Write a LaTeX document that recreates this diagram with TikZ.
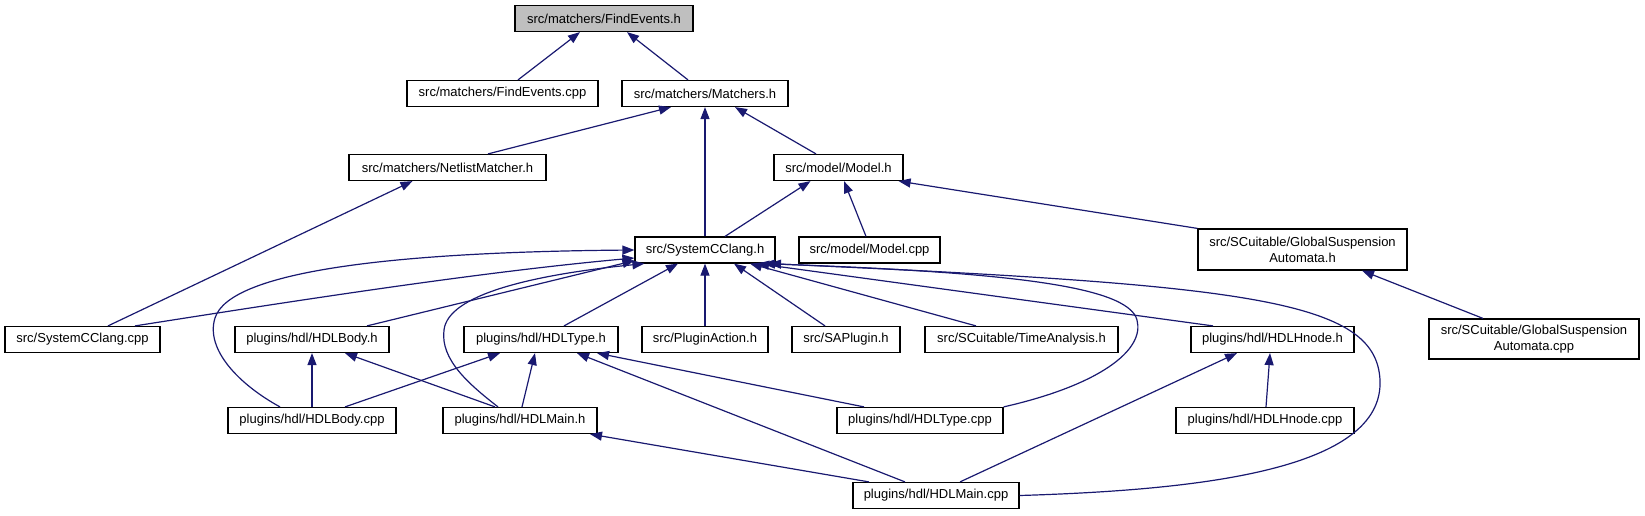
\documentclass[tikz,border=0pt]{standalone}
\usepackage{fontspec}
\setmainfont{Liberation Sans}
\usepackage{tikz}
\usetikzlibrary{positioning, arrows.meta}
\definecolor{midnight}{HTML}{191970}
\definecolor{rootgrey}{HTML}{BFBFBF}

\begin{document}
\begin{tikzpicture}[x=1pt, y=-1pt,
        file/.style={draw=black, line width=1.2pt, fill=white, minimum height=26pt, inner sep=2pt, align=center, font=\fontsize{13}{16}\selectfont},
        edge/.style={draw=midnight, line width=1.2pt, -{Triangle[length=12pt, width=9pt]}}]
        \useasboundingbox (0,0) rectangle (1645,515);
        \node[file, fill=rootgrey, minimum width=178pt] (feh) at (604,18.5) {src/matchers/FindEvents.h};
        \node[file, minimum width=191pt] (fecpp) at (502.5,93.5) {src/matchers/FindEvents.cpp};
        \node[file, minimum width=166pt] (mat) at (705,93.5) {src/matchers/Matchers.h};
        \node[file, minimum width=197pt] (net) at (447.5,167.5) {src/matchers/NetlistMatcher.h};
        \node[file, minimum width=129pt] (modh) at (838.5,167.5) {src/model/Model.h};
        \node[file, minimum width=140pt] (sch) at (705,250) {src/SystemCClang.h};
        \node[file, minimum width=141pt] (modcpp) at (869.5,250) {src/model/Model.cpp};
        \node[file, minimum width=209pt, minimum height=41pt] (gsah) at (1302.5,249.5) {src/SCuitable/GlobalSuspension\\Automata.h};
        \node[file, minimum width=155pt] (sccpp) at (82.5,339.5) {src/SystemCClang.cpp};
        \node[file, minimum width=154pt] (bodyh) at (312,339.5) {plugins/hdl/HDLBody.h};
        \node[file, minimum width=154pt] (typeh) at (541,339.5) {plugins/hdl/HDLType.h};
        \node[file, minimum width=126pt] (plug) at (705,339.5) {src/PluginAction.h};
        \node[file, minimum width=108pt] (sap) at (846,339.5) {src/SAPlugin.h};
        \node[file, minimum width=193pt] (tana) at (1021.5,339.5) {src/SCuitable/TimeAnalysis.h};
        \node[file, minimum width=163pt] (hnodeh) at (1272.5,339.5) {plugins/hdl/HDLHnode.h};
        \node[file, minimum width=210pt, minimum height=40pt] (gsacpp) at (1534,339) {src/SCuitable/GlobalSuspension\\Automata.cpp};
        \node[file, minimum width=168pt] (bodycpp) at (312,420.5) {plugins/hdl/HDLBody.cpp};
        \node[file, minimum width=154pt] (mainh) at (520,420.5) {plugins/hdl/HDLMain.h};
        \node[file, minimum width=166pt] (typecpp) at (920,420.5) {plugins/hdl/HDLType.cpp};
        \node[file, minimum width=178pt] (hnodecpp) at (1265,420.5) {plugins/hdl/HDLHnode.cpp};
        \node[file, minimum width=166pt] (maincpp) at (936,495.5) {plugins/hdl/HDLMain.cpp};
        \draw[edge] ([xshift=15.5pt]fecpp.north) -- ([xshift=-24pt]feh.south);
        \draw[edge] ([xshift=-17pt]mat.north) -- ([xshift=23pt]feh.south);
        \draw[edge] ([xshift=40.5pt]net.north) -- ([xshift=-34pt]mat.south);
        \draw[edge] (sch.north) -- (mat.south);
        \draw[edge] ([xshift=-22.5pt]modh.north) -- ([xshift=30pt]mat.south);
        \draw[edge] ([xshift=25.5pt]sccpp.north) -- ([xshift=-35pt]net.south);
        \draw[edge] ([xshift=20pt]sch.north) -- ([xshift=-28pt]modh.south);
        \draw[edge] ([xshift=-3.5pt]modcpp.north) -- ([xshift=5.5pt]modh.south);
        \draw[edge] (gsah.north west) -- ([xshift=-5pt]modh.south east);
        \draw[edge] ([xshift=-51pt]gsacpp.north) -- ([xshift=59.5pt]gsah.south);
        \draw[edge] ([xshift=52.5pt]sccpp.north) .. controls (300,300) and (480,272) .. ([yshift=-8pt]sch.west);
        \draw[edge] ([xshift=55pt]bodyh.north) -- ([yshift=3pt]sch.south west);
        \draw[edge] ([xshift=23pt]typeh.north) -- ([xshift=-27pt]sch.south);
        \draw[edge] (plug.north) -- (sch.south);
        \draw[edge] ([xshift=-21pt]sap.north) -- ([xshift=29pt]sch.south);
        \draw[edge] ([xshift=-45.5pt]tana.north) -- ([xshift=45pt]sch.south);
        \draw[edge] ([xshift=-59.5pt]hnodeh.north) -- ([xshift=52pt]sch.south);
        \draw[edge] (typecpp.north east) .. controls (1100,385) and (1145,350) .. (1137,320) .. controls (1128,285) and (1000,272) .. ([xshift=58pt]sch.south);
        \draw[edge] (maincpp.east) .. controls (1200,490) and (1384,470) .. (1380,380) .. controls (1376,300) and (1250,285) .. ([xshift=64pt]sch.south);
        \draw[edge] ([xshift=-32pt]bodycpp.north) .. controls (240,385) and (205,350) .. (215,318) .. controls (230,270) and (400,252) .. (sch.west);
        \draw[edge] ([xshift=-22pt]mainh.north) .. controls (470,385) and (440,360) .. (444,330) .. controls (448,295) and (530,275) .. ([xshift=10pt]sch.south west);
        \draw[edge] (bodycpp.north) -- (bodyh.south);
        \draw[edge] ([xshift=-25pt]mainh.north) -- ([xshift=33pt]bodyh.south);
        \draw[edge] ([xshift=33pt]bodycpp.north) -- ([xshift=-41pt]typeh.south);
        \draw[edge] ([xshift=2pt]mainh.north) -- ([xshift=-6pt]typeh.south);
        \draw[edge] ([xshift=-56pt]typecpp.north) -- ([xshift=56pt]typeh.south);
        \draw[edge] ([xshift=-31pt]maincpp.north) -- ([xshift=36pt]typeh.south);
        \draw[edge] ([xshift=1pt]hnodecpp.north) -- ([xshift=-2.5pt]hnodeh.south);
        \draw[edge] ([xshift=24pt]maincpp.north) -- ([xshift=-35.5pt]hnodeh.south);
        \draw[edge] ([xshift=-67pt]maincpp.north) -- ([xshift=70pt]mainh.south);
\end{tikzpicture}
\end{document}
